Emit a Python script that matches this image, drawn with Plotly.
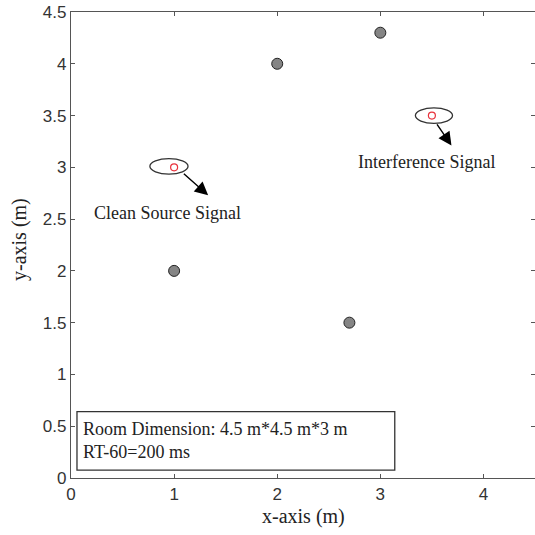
import plotly.graph_objects as go

# Data
mic_x = [1.0, 2.0, 3.0, 2.7]
mic_y = [2.0, 4.0, 4.3, 1.5]
src_x = [1.0, 3.5]
src_y = [3.0, 3.5]
src_labels = ["Clean Source Signal", "Interference Signal"]
label_x = [0.94, 3.45]
label_y = [2.56, 3.05]
arrow_start_x = [1.08, 3.54]
arrow_start_y = [2.95, 3.43]
arrow_end_x = [1.33, 3.69]
arrow_end_y = [2.73, 3.21]
ell_cx = [0.95, 3.52]
ell_cy = [3.01, 3.5]
ell_w = [0.37, 0.36]
ell_h = [0.15, 0.15]
x_ticks = [0, 1, 2, 3, 4]
y_ticks = [0, 0.5, 1, 1.5, 2, 2.5, 3, 3.5, 4, 4.5]
info_lines = ["Room Dimension: 4.5 m*4.5 m*3 m", "RT-60=200 ms"]

fig = go.Figure()
fig.add_trace(go.Scatter(x=mic_x, y=mic_y, mode="markers",
                         marker=dict(size=11, color="#858585", line=dict(color="#222222", width=1)),
                         showlegend=False, cliponaxis=False))
fig.add_trace(go.Scatter(x=src_x, y=src_y, mode="markers",
                         marker=dict(size=7, color="rgba(0,0,0,0)", line=dict(color="#e8323c", width=1.2)),
                         showlegend=False))

for cx, cy, w, h in zip(ell_cx, ell_cy, ell_w, ell_h):
    fig.add_shape(type="circle", xref="x", yref="y", x0=cx - w / 2, x1=cx + w / 2,
                  y0=cy - h / 2, y1=cy + h / 2, line=dict(color="#333333", width=1.3))

for sx, sy, ex, ey in zip(arrow_start_x, arrow_start_y, arrow_end_x, arrow_end_y):
    fig.add_annotation(x=ex, y=ey, ax=sx, ay=sy, xref="x", yref="y", axref="x", ayref="y",
                       showarrow=True, arrowhead=2, arrowsize=1.9, arrowwidth=1.4,
                       arrowcolor="#000000", text="")

for t, lx, ly in zip(src_labels, label_x, label_y):
    fig.add_annotation(x=lx, y=ly, xref="x", yref="y", text=t, showarrow=False,
                       font=dict(family="Liberation Serif", size=18, color="#222222"))

# info box
fig.add_shape(type="rect", xref="x", yref="y", x0=0.058, x1=3.14, y0=0.077, y1=0.64,
              line=dict(color="#333333", width=1.3), fillcolor="white")
fig.add_annotation(x=0.1, y=0.36, xref="x", yref="y", text="<br>".join(info_lines),
                   showarrow=False, xanchor="left", yanchor="middle", align="left",
                   font=dict(family="Liberation Serif", size=18, color="#222222"))

# axis titles
title_font = dict(family="Liberation Serif", size=20, color="#222222")
fig.add_annotation(x=0.5, y=0, xref="paper", yref="paper", text="x-axis (m)", showarrow=False,
                   yanchor="top", yshift=-25, font=title_font)
fig.add_annotation(x=0, y=0.5, xref="paper", yref="paper", text="y-axis (m)", showarrow=False,
                   xanchor="center", textangle=-90, xshift=-52, yshift=5, font=title_font)

axis_common = dict(showgrid=False, zeroline=False, showline=True, linecolor="#555555",
                   linewidth=1.3, ticks="inside", ticklen=4, tickcolor="#555555",
                   tickfont=dict(family="Liberation Sans", size=17, color="#333333"),
                   mirror="ticks", automargin=False, ticklabeloverflow="allow")
fig.update_xaxes(range=[0, 4.5], tickvals=x_ticks, **axis_common)
fig.update_yaxes(range=[0, 4.5], tickvals=y_ticks, **axis_common)
fig.update_layout(width=535, height=535, margin=dict(l=71, r=0, t=12, b=57),
                  plot_bgcolor="white", paper_bgcolor="white")
fig.write_html("out.html", config={"displayModeBar": False},
               post_script="document.body.style.margin='0';document.body.style.overflow='hidden';")
